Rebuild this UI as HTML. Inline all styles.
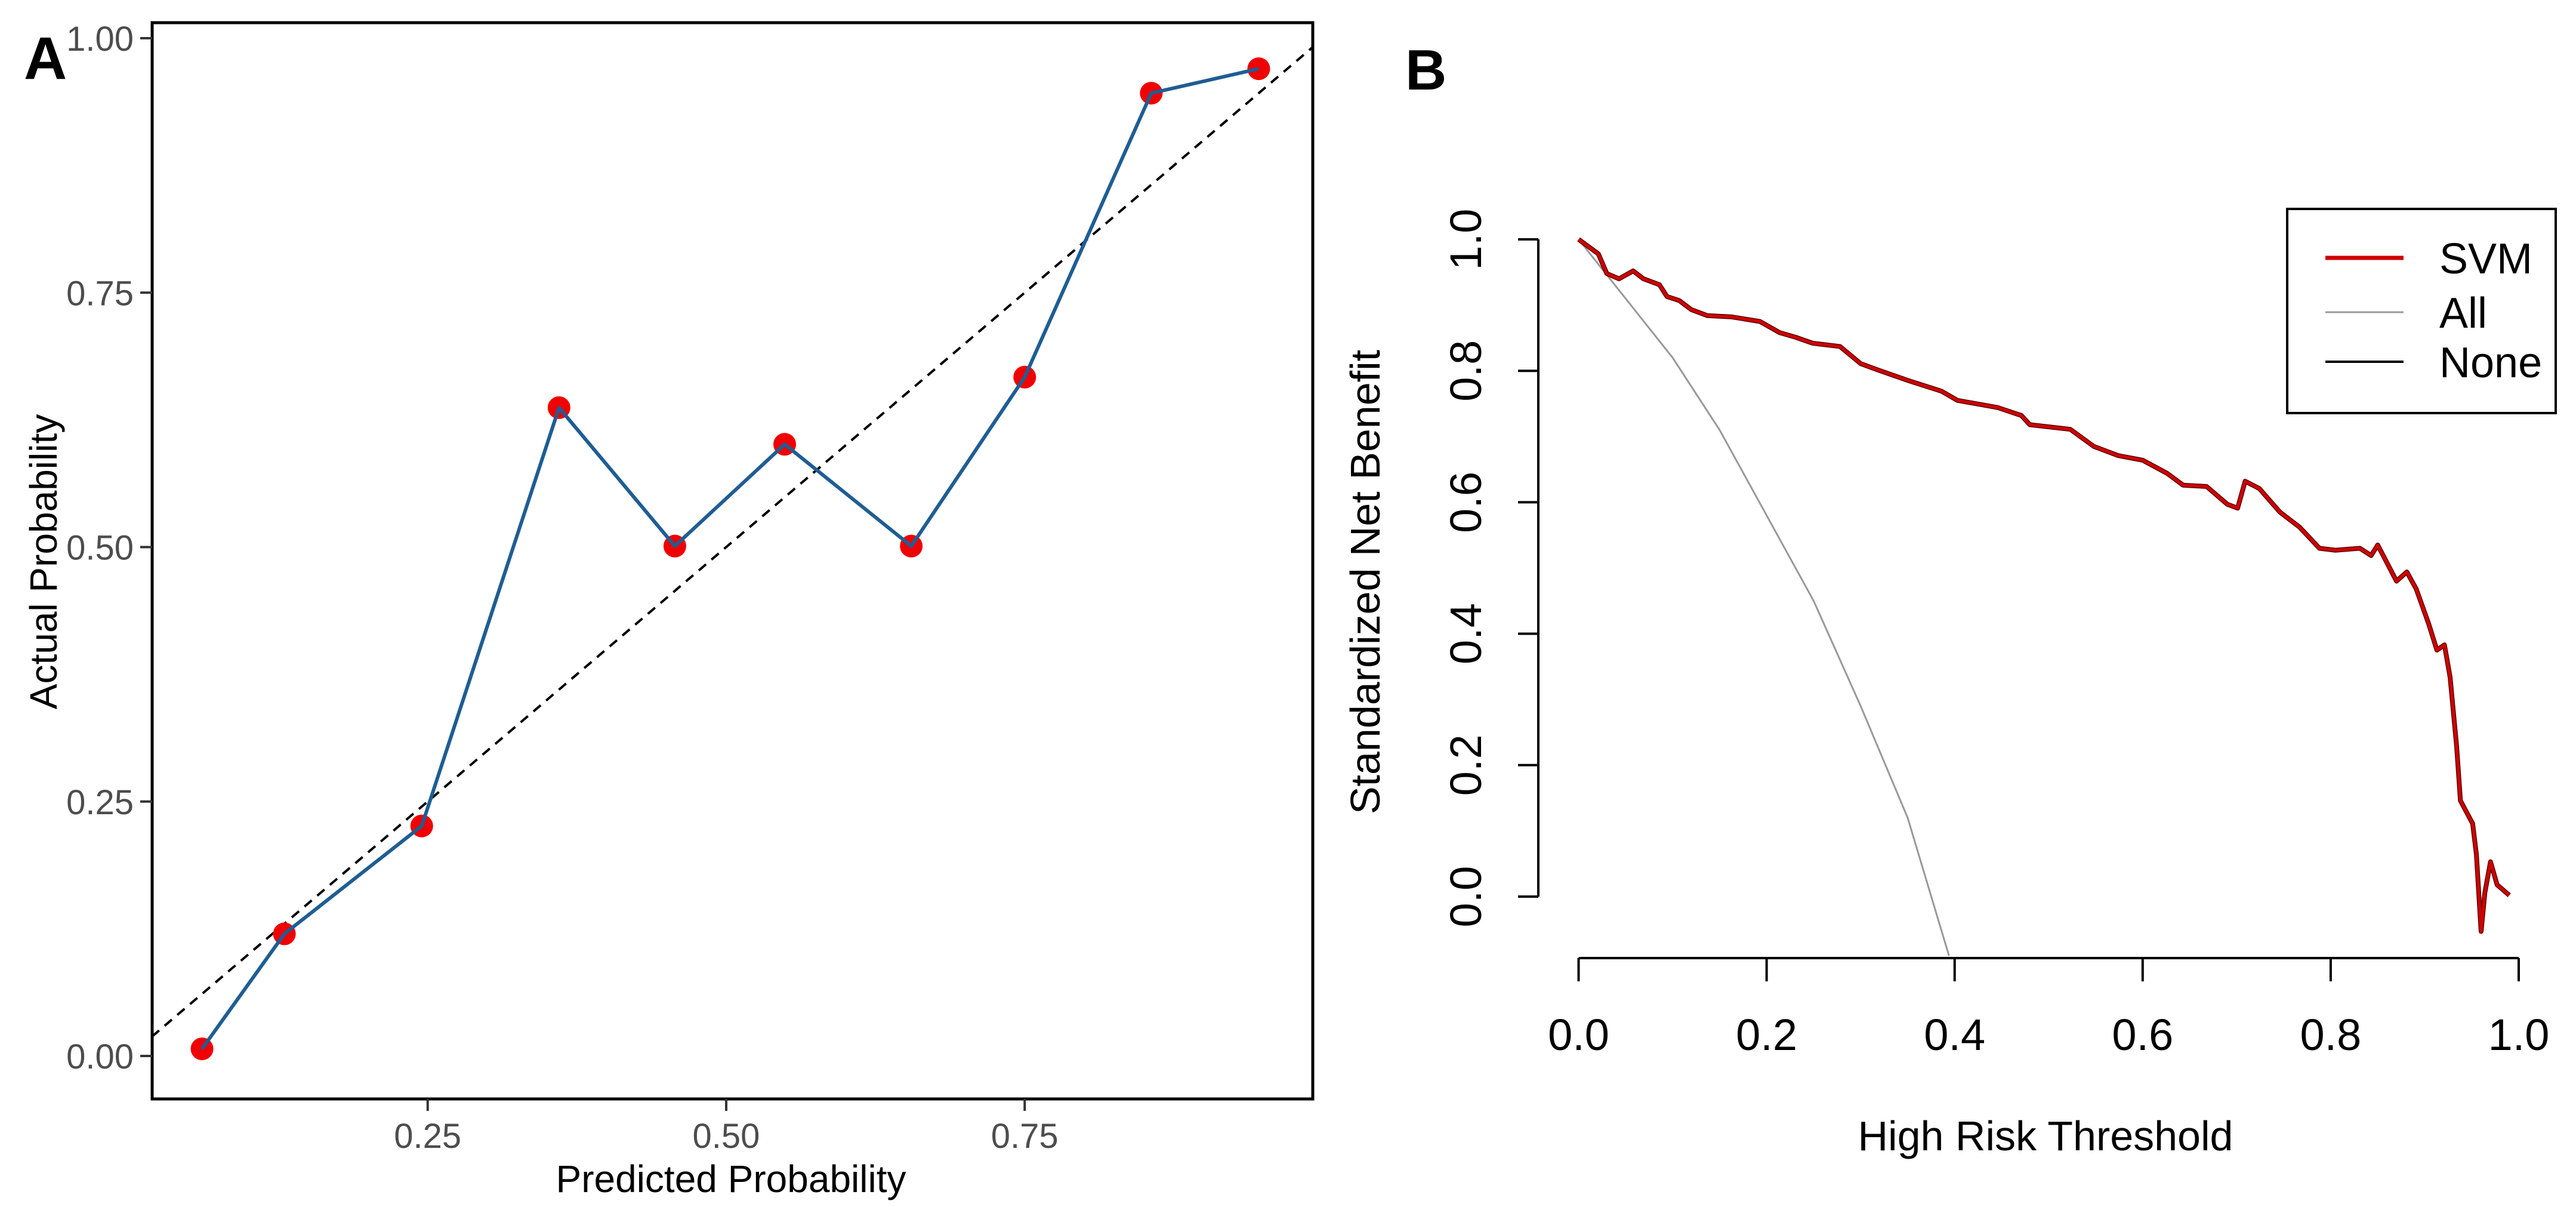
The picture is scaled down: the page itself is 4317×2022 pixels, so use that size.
<!DOCTYPE html>
<html><head><meta charset="utf-8"><style>
html,body{margin:0;padding:0;background:#fff;}
svg{display:block;font-family:"Liberation Sans",Arial,sans-serif;}
</style></head><body>
<svg id="fig" width="4317" height="2022" viewBox="0 0 4317 2022" xmlns="http://www.w3.org/2000/svg">
<rect width="4317" height="2022" fill="#fff"/>
<g id="panelA"></g>
<g id="panelB"></g>
</svg>
<script>
// ---- Panel A data (calibration) ----
const calPred = [0.061,0.130,0.245,0.360,0.457,0.549,0.655,0.750,0.856,0.946];
const calActual = [0.007,0.120,0.226,0.637,0.501,0.601,0.501,0.667,0.946,0.970];
const aTicks = [0,0.25,0.5,0.75,1];
const aTickLabels = ["0.00","0.25","0.50","0.75","1.00"];
const aXTicks = [0.25,0.5,0.75];
const aXTickLabels = ["0.25","0.50","0.75"];
// ---- Panel B data (decision curve) ----
const svmT = [0,0.021,0.030,0.043,0.058,0.069,0.086,0.094,0.107,0.120,0.137,0.163,0.193,0.214,0.231,0.249,0.278,0.300,0.317,0.351,0.386,0.403,0.446,0.471,0.480,0.523,0.548,0.574,0.600,0.626,0.643,0.668,0.690,0.701,0.709,0.724,0.746,0.767,0.788,0.805,0.831,0.843,0.850,0.870,0.881,0.891,0.904,0.913,0.921,0.927,0.934,0.938,0.951,0.955,0.960,0.964,0.970,0.977,0.990];
const svmNB = [1.0,0.978,0.948,0.940,0.952,0.940,0.931,0.913,0.907,0.893,0.884,0.882,0.875,0.858,0.851,0.842,0.837,0.811,0.802,0.785,0.769,0.755,0.744,0.732,0.718,0.711,0.685,0.671,0.664,0.644,0.626,0.624,0.597,0.591,0.632,0.621,0.585,0.562,0.530,0.527,0.530,0.519,0.535,0.480,0.494,0.468,0.416,0.375,0.383,0.334,0.228,0.146,0.111,0.064,-0.053,0.006,0.053,0.018,0.002];
const allT = [0,0.05,0.10,0.15,0.20,0.25,0.30,0.35,0.394];
const allNB = [1.0,0.91,0.82,0.71,0.58,0.45,0.29,0.12,-0.09];
const bYTicks = [0,0.2,0.4,0.6,0.8,1.0];
const bYTickLabels = ["0.0","0.2","0.4","0.6","0.8","1.0"];
const bXTicks = [0,0.2,0.4,0.6,0.8,1.0];
const bXTickLabels = ["0.0","0.2","0.4","0.6","0.8","1.0"];
const legendLabels = ["SVM","All","None"];
const legendColors = ["#cc0000","#999999","#000000"];

const NS="http://www.w3.org/2000/svg";
function mk(parent,tag,attrs,text){const e=document.createElementNS(NS,tag);for(const k in attrs)e.setAttribute(k,attrs[k]);if(text!==undefined)e.textContent=text;parent.appendChild(e);return e;}

// Panel A
const A=document.getElementById('panelA');
const ax=v=>1217+2001*(v-0.5);
const ay=v=>1769-1705*v;
let t=mk(A,'text',{x:40,y:132,'font-size':100,'font-weight':'bold',fill:'#000'},'A');


let d=mk(A,'line',{x1:ax(0.019),y1:ay(0.019),x2:ax(0.991),y2:ay(0.991),stroke:'#000','stroke-width':4,'stroke-dasharray':'16 12'});


calPred.forEach((p,i)=>{
  const c=mk(A,'circle',{cx:ax(p),cy:ay(calActual[i]),r:19,fill:'#f00000'});
  
  
});
let pts=calPred.map((p,i)=>ax(p)+','+ay(calActual[i])).join(' ');
let pl=mk(A,'polyline',{points:pts,fill:'none',stroke:'#1f5d93','stroke-width':6,'stroke-linejoin':'round'});


let box=mk(A,'rect',{x:255,y:38,width:1945,height:1803,fill:'none',stroke:'#000','stroke-width':5});


aTicks.forEach((v,i)=>{
  mk(A,'line',{x1:235,x2:255,y1:ay(v),y2:ay(v),stroke:'#333','stroke-width':4});
  const l=mk(A,'text',{x:224,y:ay(v)+21,'font-size':58,fill:'#4d4d4d','text-anchor':'end'},aTickLabels[i]);
  
  
});
aXTicks.forEach((v,i)=>{
  mk(A,'line',{x1:ax(v),x2:ax(v),y1:1841,y2:1861,stroke:'#333','stroke-width':4});
  const l=mk(A,'text',{x:ax(v),y:1923,'font-size':58,fill:'#4d4d4d','text-anchor':'middle'},aXTickLabels[i]);
  
  
});
t=mk(A,'text',{x:1225,y:1997,'font-size':64,fill:'#000','text-anchor':'middle'},'Predicted Probability');


t=mk(A,'text',{x:0,y:0,'font-size':64,fill:'#000','text-anchor':'middle',transform:'translate(95,941) rotate(-90)'},'Actual Probability');



// Panel B
const B=document.getElementById('panelB');
const bx=v=>2645.5+1575.5*v;
const by=v=>1502-1101*v;
t=mk(B,'text',{x:2355,y:150,'font-size':96,'font-weight':'bold',fill:'#000'},'B');


let yl=mk(B,'line',{x1:2578,x2:2578,y1:by(1),y2:by(0),stroke:'#000','stroke-width':4});


bYTicks.forEach((v,i)=>{
  mk(B,'line',{x1:2544,x2:2578,y1:by(v),y2:by(v),stroke:'#000','stroke-width':4});
  const l=mk(B,'text',{x:0,y:0,'font-size':74,fill:'#000','text-anchor':'middle',transform:`translate(2482,${by(v)}) rotate(-90)`},bYTickLabels[i]);
  
  
});
let xl=mk(B,'line',{x1:bx(0),x2:bx(1),y1:1605,y2:1605,stroke:'#000','stroke-width':4});


bXTicks.forEach((v,i)=>{
  mk(B,'line',{x1:bx(v),x2:bx(v),y1:1605,y2:1644,stroke:'#000','stroke-width':4});
  const l=mk(B,'text',{x:bx(v),y:1759,'font-size':74,fill:'#000','text-anchor':'middle'},bXTickLabels[i]);
  
  
});
t=mk(B,'text',{x:3428,y:1927,'font-size':70,fill:'#000','text-anchor':'middle'},'High Risk Threshold');


t=mk(B,'text',{x:0,y:0,'font-size':70,fill:'#000','text-anchor':'middle',transform:'translate(2312,975) rotate(-90)'},'Standardized Net Benefit');


let allL=mk(B,'polyline',{points:allT.map((x,i)=>bx(x)+','+by(allNB[i])).join(' '),fill:'none',stroke:'#999','stroke-width':3});


let svmPts=svmT.map((x,i)=>bx(x)+','+by(svmNB[i])).join(' ');
let svmDark=mk(B,'polyline',{points:svmPts,fill:'none',stroke:'#5a0000','stroke-width':8,'stroke-linejoin':'round'});


let svmL=mk(B,'polyline',{points:svmPts,fill:'none',stroke:'#d00000','stroke-width':5,'stroke-linejoin':'round'});


let lg=mk(B,'rect',{x:3833,y:350,width:450,height:342,fill:'#fff',stroke:'#000','stroke-width':4});


const legY=[432,523,606];
const legW=[7,3,4];
legendLabels.forEach((lab,i)=>{
  const g=mk(B,'g',{});
  
  
  mk(g,'line',{x1:3897,x2:4028,y1:legY[i],y2:legY[i],stroke:legendColors[i],'stroke-width':legW[i]});
  mk(g,'text',{x:4088,y:legY[i]+26,'font-size':72,fill:'#000'},lab);
});
</script>
</body></html>
